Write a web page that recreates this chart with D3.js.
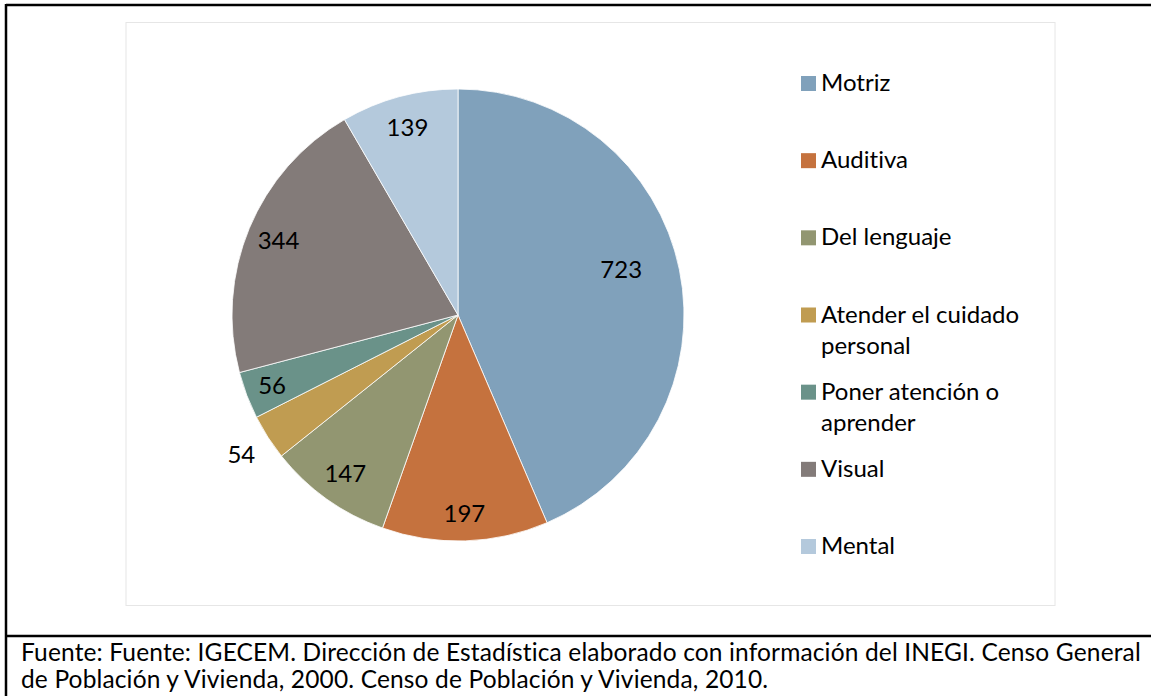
<!DOCTYPE html>
<html>
<head>
<meta charset="utf-8">
<script src="https://cdn.jsdelivr.net/npm/d3@7"></script>
<style>
  body { margin: 0; background: #fff; }
  svg { display: block; font-family: Lato, "Open Sans", sans-serif; font-variant-ligatures: none; }
</style>
</head>
<body>
<div id="chart"></div>
<script>
var categories = ["Motriz", "Auditiva", "Del lenguaje", "Atender el cuidado personal", "Poner atención o aprender", "Visual", "Mental"]
var legendLines = [["Motriz"], ["Auditiva"], ["Del lenguaje"], ["Atender el cuidado", "personal"], ["Poner atención o", "aprender"], ["Visual"], ["Mental"]]
var values = [723, 197, 147, 54, 56, 344, 139]
var colors = ["#80A1BB", "#C5723E", "#929671", "#C09C51", "#6A9289", "#837B79", "#B4C9DC"]
var footer = [
  "Fuente: Fuente: IGECEM. Dirección de Estadística elaborado con información del INEGI. Censo General",
  "de Población y Vivienda, 2000. Censo de Población y Vivienda, 2010."
]

var width = 1151
var height = 696
var cx = 458
var cy = 315
var radius = 226

var data = []
for (var i = 0; i < values.length; i++) {
  data.push({ name: categories[i], value: values[i], color: colors[i] })
}

var svg = d3.select("#chart").append("svg")
  .attr("width", width)
  .attr("height", height)

// outer frame lines
svg.append("line").attr("x1", 6).attr("x2", width).attr("y1", 5).attr("y2", 5)
  .attr("stroke", "#000").attr("stroke-width", 2.5)
svg.append("line").attr("x1", 6).attr("x2", 6).attr("y1", 4).attr("y2", height)
  .attr("stroke", "#000").attr("stroke-width", 2.5)
svg.append("line").attr("x1", 6).attr("x2", width).attr("y1", 636).attr("y2", 636)
  .attr("stroke", "#000").attr("stroke-width", 2.5)

// chart area
svg.append("rect")
  .attr("x", 126).attr("y", 22.5)
  .attr("width", 929).attr("height", 583)
  .attr("fill", "#fff")
  .attr("stroke", "#E6E6E6")

var pie = d3.pie()
  .sort(null)
  .value(function (d) { return d.value })

var arcs = pie(data)

var arc = d3.arc()
  .innerRadius(0)
  .outerRadius(radius)

var g = svg.append("g")
  .attr("transform", "translate(" + cx + "," + cy + ")")

g.selectAll("path")
  .data(arcs)
  .enter()
  .append("path")
  .attr("d", arc)
  .attr("fill", function (d) { return d.data.color })
  .attr("stroke", "#fff")
  .attr("stroke-width", 0.8)

// labels, roughly like Excel's "best fit"
var labelPos = function (d, i) {
  var a = (d.startAngle + d.endAngle) / 2
  var k = 0.86
  if (i === 0) { k = 0.75; a = a - 0.07 }
  if (i === 1) k = 0.88
  if (i === 3) k = 1.14
  if (i === 4) k = 0.88
  return [Math.sin(a) * radius * k, -Math.cos(a) * radius * k]
}

g.selectAll("text")
  .data(arcs)
  .enter()
  .append("text")
  .attr("x", function (d, i) { return labelPos(d, i)[0] })
  .attr("y", function (d, i) { return labelPos(d, i)[1] })
  .attr("dy", "0.36em")
  .attr("text-anchor", "middle")
  .attr("fill", "#000")
  .style("font-size", "24px")
  .text(function (d) { return d.data.value })

// legend
var legendY = d3.scalePoint()
  .domain(categories)
  .range([76, 539])

var legend = svg.append("g")
  .selectAll("g")
  .data(data)
  .enter()
  .append("g")
  .attr("transform", function (d) { return "translate(801," + legendY(d.name) + ")" })

legend.append("rect")
  .attr("width", 15)
  .attr("height", 15)
  .attr("fill", function (d) { return d.color })

legend.append("text")
  .attr("x", 20)
  .attr("y", 15)
  .attr("fill", "#000")
  .style("font-size", "24px")
  .selectAll("tspan")
  .data(function (d, i) { return legendLines[i] })
  .enter()
  .append("tspan")
  .attr("x", 20)
  .attr("dy", function (d, i) { return i === 0 ? 0 : 31 })
  .text(function (d) { return d })

// footer
svg.append("g")
  .selectAll("text")
  .data(footer)
  .enter()
  .append("text")
  .attr("x", 21)
  .attr("y", function (d, i) { return 661 + i * 27 })
  .attr("fill", "#000")
  .style("font-size", "24.5px")
  .style("letter-spacing", "0.15px")
  .text(function (d) { return d })
</script>
</body>
</html>
